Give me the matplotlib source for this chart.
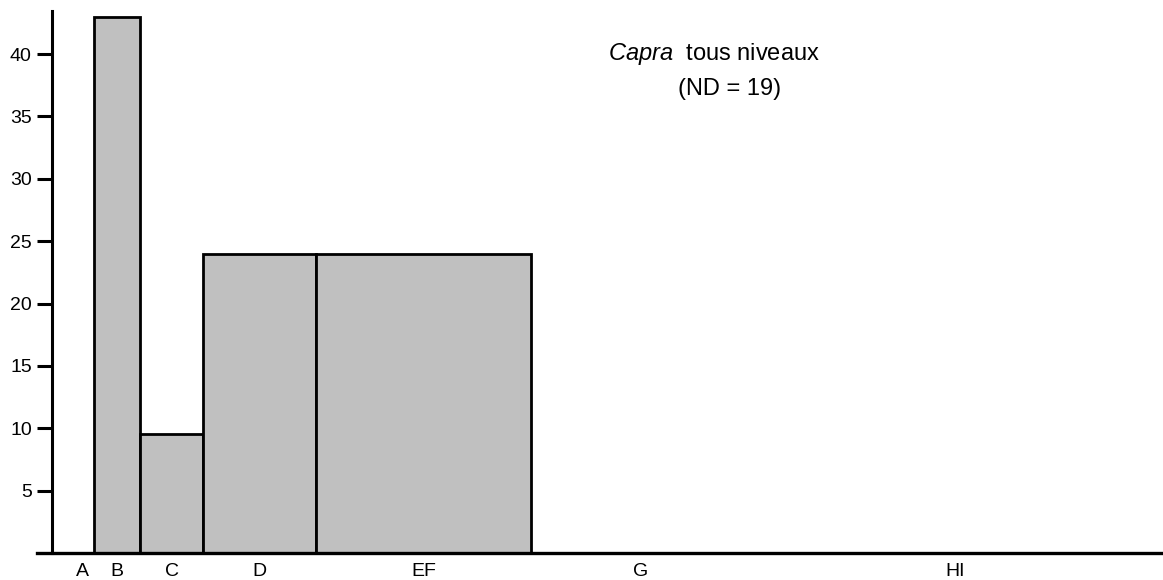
import matplotlib
matplotlib.use("Agg")
import matplotlib.pyplot as plt

# ---- data ----
categories = ["A", "B", "C", "D", "EF", "G", "HI"]
bin_edges = [70, 94, 140, 203, 316, 531, 750, 1160]
values = [0, 43, 9.5, 24, 24, 0, 0]
yticks = [5, 10, 15, 20, 25, 30, 35, 40]
title_taxon = "Capra"
title_rest = "tous niveaux"
title_nd = "(ND = 19)"

plt.rcParams['font.family'] = ['Liberation Sans', 'DejaVu Sans']
plt.rcParams['mathtext.fontset'] = 'custom'
plt.rcParams['mathtext.it'] = 'Liberation Sans:italic'
plt.rcParams['mathtext.rm'] = 'Liberation Sans'

fig = plt.figure(figsize=(11.63, 5.80), dpi=100)
W, H = 1163, 580
ax = fig.add_axes([37 / W, 1 - 553 / H, (1163 - 37) / W, (553 - 11) / H])

lefts = bin_edges[:-1]
widths = [b - a for a, b in zip(bin_edges[:-1], bin_edges[1:])]
centers = [a + w / 2 for a, w in zip(lefts, widths)]

for l, w, v in zip(lefts, widths, values):
    if v > 0:
        ax.bar(l, v, width=w, align='edge', color='#c0c0c0',
               edgecolor='black', linewidth=2.0, zorder=2)

ax.set_xlim(37, 1163)
ax.set_ylim(0, 43.45)

for s in ['top', 'right']:
    ax.spines[s].set_visible(False)
ax.spines['left'].set_position(('data', 52))
ax.spines['left'].set_linewidth(2.2)
ax.spines['bottom'].set_linewidth(2.4)
ax.spines['left'].set_zorder(3)
ax.spines['bottom'].set_zorder(3)

ax.set_yticks(yticks)
ax.set_yticklabels([str(t) for t in yticks])
ax.tick_params(axis='y', direction='out', length=11, width=2.2, pad=3.5,
               labelsize=14)
ax.set_xticks(centers)
ax.set_xticklabels(categories)
ax.tick_params(axis='x', length=0, pad=7.5, labelsize=14)

ax.text(714, 40.0, r"$\it{" + title_taxon + "}$  " + title_rest,
        ha='center', va='center', fontsize=17)
ax.text(730, 37.2, title_nd, ha='center', va='center', fontsize=17)

fig.savefig("out.png", dpi=100)
